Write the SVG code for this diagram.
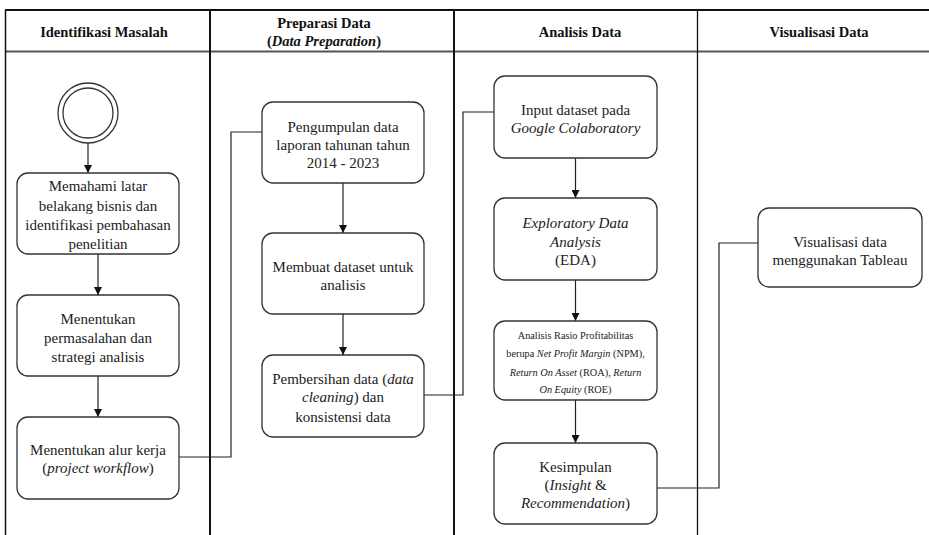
<svg xmlns="http://www.w3.org/2000/svg" width="929" height="535" viewBox="0 0 929 535" font-family="'Liberation Serif', 'DejaVu Serif', serif">
<style>
text{font-family:'Liberation Serif', 'DejaVu Serif', serif;fill:#222;}
.h{font-weight:bold;font-size:14.5px;text-anchor:middle;dominant-baseline:central;fill:#111;}
.t{font-size:15px;text-anchor:middle;dominant-baseline:central;}
.s{font-size:10.3px;text-anchor:middle;dominant-baseline:central;}
.box{fill:#fff;stroke:#333;stroke-width:1.3;}
.edge{fill:none;stroke:#222;stroke-width:1.2;}
.it{font-style:italic;}
</style>
<defs>
<marker id="arr" viewBox="0 0 10 10" refX="10" refY="5" markerWidth="8" markerHeight="8" markerUnits="userSpaceOnUse" orient="auto">
<path d="M0,0 L10,5 L0,10 Z" fill="#111"/>
</marker>
</defs>
<rect width="929" height="535" fill="#fff"/>
<g id="table">
<line x1="5" y1="10" x2="929" y2="10" stroke="#111" stroke-width="2"/>
<line x1="5" y1="51.5" x2="929" y2="51.5" stroke="#555" stroke-width="2"/>
<line x1="5.5" y1="10" x2="5.5" y2="535" stroke="#111" stroke-width="1.5"/>
<line x1="210" y1="10" x2="210" y2="535" stroke="#111" stroke-width="2"/>
<line x1="454" y1="10" x2="454" y2="535" stroke="#111" stroke-width="2"/>
<line x1="697.5" y1="10" x2="697.5" y2="535" stroke="#111" stroke-width="1.3"/>
<text class="h" x="104" y="32">Identifikasi Masalah</text>
<text class="h" x="324" y="23">Preparasi Data</text>
<text class="h" x="324" y="41">(<tspan class="it">Data Preparation</tspan>)</text>
<text class="h" x="580" y="32">Analisis Data</text>
<text class="h" x="819" y="32">Visualisasi Data</text>
</g>
<g id="connectors">
<line class="edge" x1="88" y1="143" x2="88" y2="173" marker-end="url(#arr)"/>
<line class="edge" x1="98" y1="254" x2="98" y2="295" marker-end="url(#arr)"/>
<line class="edge" x1="98" y1="376" x2="98" y2="417" marker-end="url(#arr)"/>
<polyline class="edge" points="179,457 231,457 231,132 262,132"/>
<line class="edge" x1="343" y1="183" x2="343" y2="233" marker-end="url(#arr)"/>
<line class="edge" x1="343" y1="314" x2="343" y2="355" marker-end="url(#arr)"/>
<polyline class="edge" points="424,395 463,395 463,112 494,112"/>
<line class="edge" x1="575.5" y1="158" x2="575.5" y2="198" marker-end="url(#arr)"/>
<line class="edge" x1="575.5" y1="280" x2="575.5" y2="321" marker-end="url(#arr)"/>
<line class="edge" x1="575.5" y1="400" x2="575.5" y2="443" marker-end="url(#arr)"/>
<polyline class="edge" points="657,488 719,488 719,243 758,243"/>
</g>
<g id="start">
<circle cx="88" cy="113" r="30" fill="#fff" stroke="#333" stroke-width="1.3"/>
<circle cx="88" cy="113" r="25" fill="#fff" stroke="#333" stroke-width="1.3"/>
</g>
<g id="n-memahami">
<rect class="box" x="17" y="173" width="162" height="81" rx="11"/>
<text class="t" x="98" y="186">Memahami latar</text>
<text class="t" x="98" y="206">belakang bisnis dan</text>
<text class="t" x="98" y="225">identifikasi pembahasan</text>
<text class="t" x="98" y="244">penelitian</text>
</g>
<g id="n-permasalahan">
<rect class="box" x="17" y="295" width="162" height="81" rx="11"/>
<text class="t" x="98" y="319">Menentukan</text>
<text class="t" x="98" y="338">permasalahan dan</text>
<text class="t" x="98" y="357">strategi analisis</text>
</g>
<g id="n-alur">
<rect class="box" x="17" y="417" width="162" height="82" rx="11"/>
<text class="t" x="98" y="450">Menentukan alur kerja</text>
<text class="t" x="98" y="468">(<tspan class="it">project workflow</tspan>)</text>
</g>
<g id="n-pengumpulan">
<rect class="box" x="262" y="102" width="162" height="81" rx="11"/>
<text class="t" x="343" y="127">Pengumpulan data</text>
<text class="t" x="343" y="145">laporan tahunan tahun</text>
<text class="t" x="343" y="163">2014 - 2023</text>
</g>
<g id="n-dataset">
<rect class="box" x="262" y="233" width="162" height="81" rx="11"/>
<text class="t" x="343" y="267">Membuat dataset untuk</text>
<text class="t" x="343" y="285">analisis</text>
</g>
<g id="n-pembersihan">
<rect class="box" x="262" y="355" width="162" height="82" rx="11"/>
<text class="t" x="343" y="379">Pembersihan data (<tspan class="it">data</tspan></text>
<text class="t" x="343" y="397"><tspan class="it">cleaning</tspan>) dan</text>
<text class="t" x="343" y="417">konsistensi data</text>
</g>
<g id="n-input">
<rect class="box" x="494" y="76" width="163" height="82" rx="11"/>
<text class="t" x="575.5" y="110">Input dataset pada</text>
<text class="t it" x="575.5" y="128">Google Colaboratory</text>
</g>
<g id="n-eda">
<rect class="box" x="494" y="198" width="163" height="82" rx="11"/>
<text class="t it" x="575.5" y="223">Exploratory Data</text>
<text class="t it" x="575.5" y="242">Analysis</text>
<text class="t" x="575.5" y="260">(EDA)</text>
</g>
<g id="n-rasio">
<rect class="box" x="494" y="321" width="163" height="79" rx="11"/>
<text class="s" x="575.5" y="335">Analisis Rasio Profitabilitas</text>
<text class="s" x="575.5" y="353">berupa <tspan class="it">Net Profit Margin</tspan> (NPM),</text>
<text class="s" x="575.5" y="372"><tspan class="it">Return On Asset</tspan> (ROA), <tspan class="it">Return</tspan></text>
<text class="s" x="575.5" y="389"><tspan class="it">On Equity</tspan> (ROE)</text>
</g>
<g id="n-kesimpulan">
<rect class="box" x="494" y="443" width="163" height="81" rx="11"/>
<text class="t" x="575.5" y="467">Kesimpulan</text>
<text class="t" x="575.5" y="485">(<tspan class="it">Insight</tspan> &amp;</text>
<text class="t" x="575.5" y="503"><tspan class="it">Recommendation</tspan>)</text>
</g>
<g id="n-visualisasi">
<rect class="box" x="758" y="208" width="164" height="79" rx="11"/>
<text class="t" x="840" y="242">Visualisasi data</text>
<text class="t" x="840" y="260">menggunakan Tableau</text>
</g>
</svg>
